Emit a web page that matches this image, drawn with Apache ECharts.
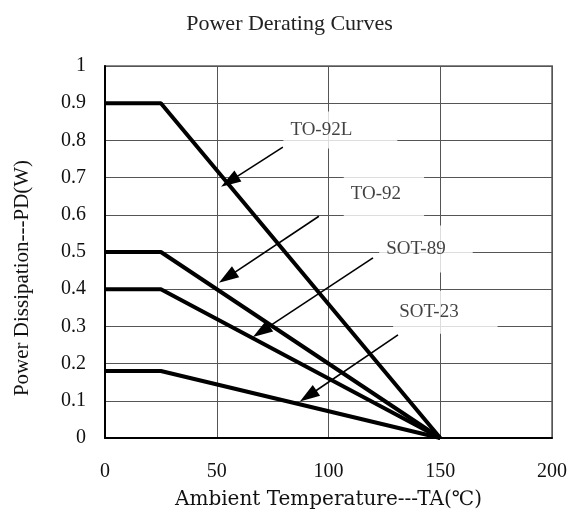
<!DOCTYPE html>
<html>
<head>
<meta charset="utf-8">
<script src="https://cdn.jsdelivr.net/npm/echarts@6/dist/echarts.min.js"></script>
<style>
html,body{margin:0;padding:0;background:#fff;}
#chart{width:579px;height:515px;}
</style>
</head>
<body>
<div id="chart"></div>
<script>
// ---- data ----
const temps = [0, 25, 150];
const to92L = [0.9, 0.9, 0];
const to92 = [0.5, 0.5, 0];
const sot89 = [0.4, 0.4, 0];
const sot23 = [0.18, 0.18, 0];
const packageNames = ['TO-92L', 'TO-92', 'SOT-89', 'SOT-23'];
const packageValues = [to92L, to92, sot89, sot23];

// annotation anchors in data units (temperature, watts)
const labelAnchors = [[105.3, 0.828], [124.8, 0.657], [143.6, 0.508], [152.3, 0.338]];
const arrowStarts = [[79.6, 0.782], [95.7, 0.596], [119.9, 0.484], [131.1, 0.277]];
const arrowEnds = [[55.7, 0.690], [54.7, 0.432], [69.9, 0.286], [90.9, 0.113]];

const xTickLabels = ['0', '50', '100', '150', '200'];

// ---- style (not data) ----
const labelPaddings = [[8, 45, 10, 7], [14, 23, 20, 7], [8, 27, 20, 7], [7, 39, 17, 6]];
const serif = 'Liberation Serif';

const chart = echarts.init(document.getElementById('chart'), null, {renderer: 'canvas'});

const lineSeries = packageNames.map((name, i) => ({
  name: name,
  type: 'line',
  data: temps.map((t, j) => [t, packageValues[i][j]]),
  symbol: 'none',
  lineStyle: {color: '#000', width: 4},
  z: 3,
  animation: false
}));

const labelSeries = {
  type: 'scatter',
  symbolSize: 0,
  silent: true,
  z: 5,
  animation: false,
  data: packageNames.map((name, i) => ({
    value: labelAnchors[i],
    label: {
      show: true,
      position: 'inside',
      formatter: name,
      fontFamily: serif,
      fontSize: 19,
      color: '#111',
      backgroundColor: '#fff',
      padding: labelPaddings[i]
    }
  })),
  markLine: {
    silent: true,
    animation: false,
    symbol: ['none', 'triangle'],
    symbolSize: [13, 20],
    label: {show: false},
    lineStyle: {color: '#000', width: 1.6, type: 'solid'},
    data: packageNames.map((n, i) => [
      {coord: arrowStarts[i]},
      {coord: arrowEnds[i]}
    ])
  }
};

chart.setOption({
  backgroundColor: '#fff',
  animation: false,
  title: {
    text: 'Power Derating Curves',
    left: 'center',
    top: 8,
    textStyle: {fontFamily: serif, fontSize: 22, fontWeight: 'normal', color: '#222'}
  },
  grid: {
    left: 105, right: 27, top: 66, bottom: 73,
    show: true, borderColor: '#888', borderWidth: 2, backgroundColor: 'transparent'
  },
  xAxis: {
    type: 'value',
    min: 0, max: 200, interval: 50,
    name: 'Ambient Temperature---TA(℃)',
    nameLocation: 'middle',
    nameGap: 52,
    nameTextStyle: {fontFamily: 'DejaVu Serif', fontSize: 20, color: '#111'},
    axisLine: {show: true, onZero: false, lineStyle: {color: '#000', width: 2}},
    axisTick: {show: false},
    axisLabel: {
      margin: 24, fontFamily: serif, fontSize: 20, color: '#111',
      formatter: (v) => xTickLabels[Math.round(v / 50)]
    },
    splitLine: {show: true, lineStyle: {color: '#555', width: 1}}
  },
  yAxis: {
    type: 'value',
    min: 0, max: 1, interval: 0.1,
    name: 'Power Dissipation---PD(W)',
    nameLocation: 'middle',
    nameGap: 72,
    nameTextStyle: {fontFamily: serif, fontSize: 21, color: '#111', padding: [0, 52, 0, 0]},
    axisLine: {show: true, onZero: false, lineStyle: {color: '#000', width: 2}},
    axisTick: {show: false},
    axisLabel: {
      margin: 19, fontFamily: serif, fontSize: 20, color: '#111',
      formatter: (v) => String(Math.round(v * 10) / 10)
    },
    splitLine: {show: true, lineStyle: {color: '#555', width: 1}}
  },
  series: lineSeries.concat([labelSeries])
});
</script>
</body>
</html>
